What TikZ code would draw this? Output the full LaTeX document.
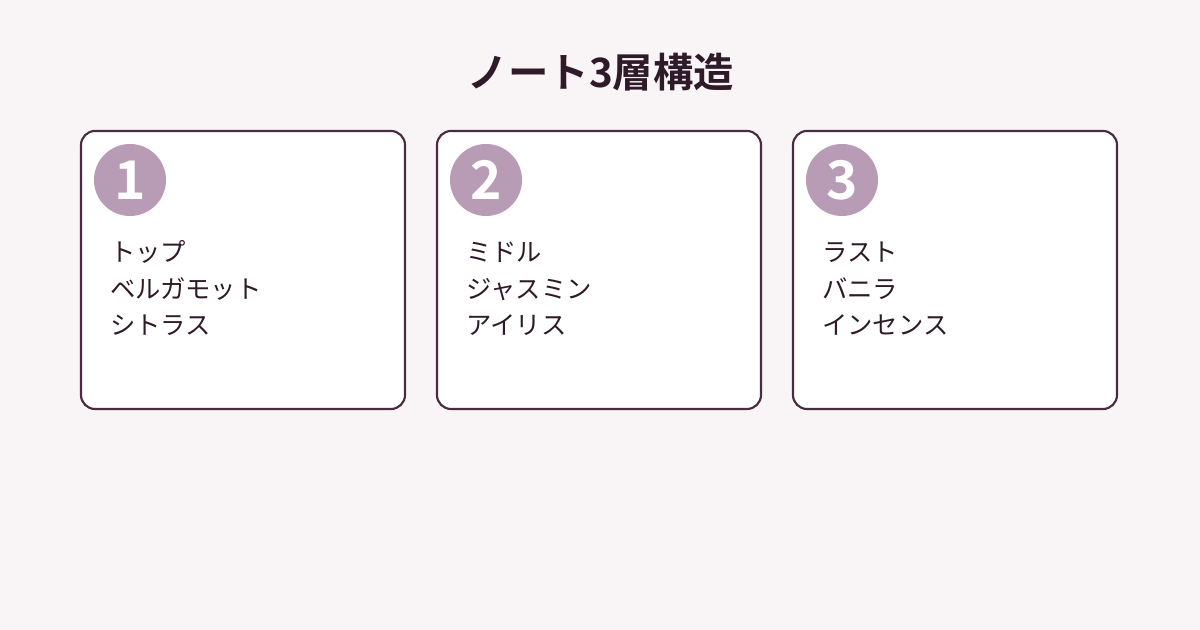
\documentclass[tikz,border=0pt]{standalone}
\usepackage{fontspec}
\setmainfont{Noto Sans CJK JP}
\newfontfamily\jpbold{Noto Sans CJK JP Bold}
\usetikzlibrary{positioning,calc}
\definecolor{bgpink}{HTML}{F9F5F7}
\definecolor{plumline}{HTML}{4A2B40}
\definecolor{plumtext}{HTML}{2E1A28}
\definecolor{badgefill}{HTML}{B89BB4}
\tikzset{
  card/.style={rectangle,draw=plumline,line width=1.6pt,fill=white,rounded corners=10.5pt,minimum width=243pt,minimum height=208.5pt,inner sep=0pt},
  badge/.style={circle,fill=badgefill,minimum size=54pt,inner sep=0pt,text=white,font=\jpbold\fontsize{40}{40}\selectfont},
  item/.style={anchor=base west,inner sep=0pt,text=plumtext,font=\fontsize{19}{19}\selectfont},
  headline/.style={anchor=base,inner sep=0pt,text=plumtext,font=\jpbold\fontsize{30.3}{30.3}\selectfont}
}

\begin{document}
\begin{tikzpicture}[x=0.75pt,y=-0.75pt]
\useasboundingbox[fill=bgpink] (0,0) rectangle (1200,630);
% title
\node[headline] (title) at (601,88) {ノート3層構造};
% cards
\node[card] (C1) at (243,270) {};
\node[card] (C2) at (599,270) {};
\node[card] (C3) at (955,270) {};
% badges
\node[badge] (B1) at (130,180) {1};
\node[badge] (B2) at (486,180) {2};
\node[badge] (B3) at (842,180) {3};
% notes
\node[item] (T1) at (110,262) {トップ};
\node[item] (T2) at (110,298.5) {ベルガモット};
\node[item] (T3) at (110,335) {シトラス};
\node[item] (M1) at (466,262) {ミドル};
\node[item] (M2) at (466,298.5) {ジャスミン};
\node[item] (M3) at (466,335) {アイリス};
\node[item] (L1) at (822,262) {ラスト};
\node[item] (L2) at (822,298.5) {バニラ};
\node[item] (L3) at (822,335) {インセンス};
\end{tikzpicture}
\end{document}
